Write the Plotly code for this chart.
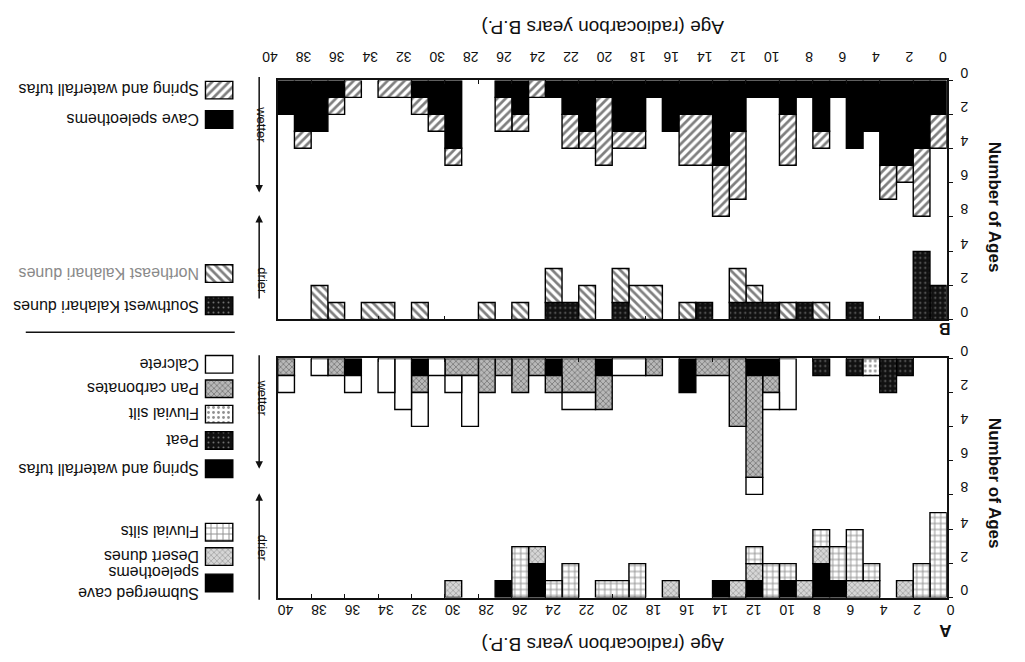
import plotly.graph_objects as go

# ---------------- data (counts per 1-kyr bin, bin start ages 0..39 ka) ----------------
AGE_BIN_START = list(range(40))
AGE_TICKS = list(range(0, 41, 2))
AGE_TICK_TEXT = [str(v) for v in AGE_TICKS]
WET_TICKS = [0, 2, 4, 6, 8]
DRY_TICKS = [0, 2, 4]

# Panel B - wetter
B_cave_speleothems = [2, 4, 5, 5, 3, 4, 1, 3, 1, 2, 1, 1, 3, 5, 2, 2, 3, 1, 3, 3,
                      1, 3, 2, 1, 0, 2, 1, 0, 0, 4, 2, 1, 0, 0, 0, 0, 1, 3, 3, 2]
B_spring_tufas = [2, 4, 1, 2, 0, 0, 0, 1, 0, 3, 0, 0, 4, 3, 3, 3, 0, 0, 1, 1,
                  4, 1, 2, 0, 1, 1, 2, 0, 0, 1, 1, 1, 1, 1, 0, 1, 1, 0, 1, 0]
# Panel B - drier
B_sw_kalahari_dunes = [2, 4, 0, 0, 0, 1, 0, 0, 1, 0, 1, 1, 1, 0, 1, 0, 0, 0, 0, 1,
                       0, 0, 1, 1, 0, 0, 0, 0, 0, 0, 0, 0, 0, 0, 0, 0, 0, 0, 0, 0]
B_ne_kalahari_dunes = [0, 0, 0, 0, 0, 0, 0, 1, 0, 1, 0, 1, 2, 0, 0, 1, 0, 2, 2, 2,
                       0, 2, 0, 2, 0, 1, 0, 1, 0, 0, 0, 1, 0, 1, 1, 0, 1, 2, 0, 0]
# Panel A - wetter
A_spring_tufas = [0, 0, 0, 0, 0, 0, 0, 0, 0, 0, 1, 1, 0, 0, 0, 2, 0, 0, 0, 0,
                  1, 0, 0, 1, 0, 0, 0, 0, 0, 0, 0, 1, 0, 0, 0, 1, 0, 0, 0, 0]
A_peat = [0, 0, 1, 2, 0, 1, 0, 1, 0, 0, 0, 0, 0, 0, 0, 0, 0, 0, 0, 0,
          0, 0, 0, 0, 0, 0, 0, 0, 0, 0, 0, 0, 0, 0, 0, 0, 0, 0, 0, 0]
A_fluvial_silt = [0, 0, 0, 0, 1, 0, 0, 0, 0, 0, 0, 0, 0, 0, 0, 0, 0, 0, 0, 0,
                  0, 0, 0, 0, 0, 0, 0, 0, 0, 0, 0, 0, 0, 0, 0, 0, 0, 0, 0, 0]
A_pan_carbonates = [0, 0, 0, 0, 0, 0, 0, 0, 0, 0, 1, 6, 4, 1, 1, 0, 0, 1, 0, 0,
                    2, 2, 2, 1, 1, 2, 1, 2, 1, 1, 0, 1, 0, 0, 0, 0, 1, 0, 0, 1]
A_calcrete = [0, 0, 0, 0, 0, 0, 0, 0, 0, 3, 1, 1, 0, 0, 0, 0, 0, 0, 1, 1,
              0, 1, 1, 0, 0, 0, 0, 0, 3, 1, 1, 2, 3, 2, 0, 1, 0, 1, 0, 1]
# Panel A - drier
A_submerged_speleothems = [0, 0, 0, 0, 0, 0, 1, 2, 0, 1, 0, 1, 0, 1, 0, 0, 0, 0, 0, 0,
                           0, 0, 0, 0, 2, 0, 1, 0, 0, 0, 0, 0, 0, 0, 0, 0, 0, 0, 0, 0]
A_desert_dunes = [0, 0, 1, 0, 1, 1, 0, 1, 1, 0, 0, 1, 1, 0, 0, 0, 1, 0, 0, 0,
                  0, 0, 0, 0, 1, 0, 0, 0, 0, 1, 0, 0, 0, 0, 0, 0, 0, 0, 0, 0]
A_fluvial_silts = [5, 2, 0, 0, 1, 3, 2, 1, 0, 1, 2, 1, 0, 0, 0, 0, 0, 0, 2, 1,
                   1, 0, 2, 1, 0, 3, 0, 0, 0, 0, 0, 0, 0, 0, 0, 0, 0, 0, 0, 0]

# ---------------- styles ----------------
FONT = "Liberation Sans, Arial, Helvetica, sans-serif"
INK = "#111111"
W, H = 1025, 662
PX_L, PX_R = 268, 953              # plot area left/right (pixels)
B_TOP, B_BOT = 67, 312              # panel B (pixels)
A_TOP, A_BOT = 352, 597             # panel A (pixels)
PX_PER_COUNT = 17.4
WET0 = (B_BOT - B_TOP) / PX_PER_COUNT   # position of the "wetter" zero line in count units

STYLE = {
    "black": dict(color="black"),
    "hatch_fwd": dict(color="white", pattern=dict(shape="/", fgcolor="black", bgcolor="white", size=6, solidity=0.45)),
    "hatch_bwd": dict(color="white", pattern=dict(shape="\\", fgcolor="black", bgcolor="white", size=6, solidity=0.45)),
    "dark_dots": dict(color="black", pattern=dict(shape=".", fgcolor="#d0d0d0", bgcolor="#111111", size=5, solidity=0.12)),
    "light_dots": dict(color="white", pattern=dict(shape=".", fgcolor="#222222", bgcolor="white", size=5, solidity=0.25)),
    "pan": dict(color="#a9a9a9", pattern=dict(shape="x", fgcolor="#444444", bgcolor="#b8b8b8", size=4, solidity=0.4)),
    "dunes": dict(color="#cccccc", pattern=dict(shape="x", fgcolor="#555555", bgcolor="#d6d6d6", size=4, solidity=0.3)),
    "grid": dict(color="white", pattern=dict(shape="+", fgcolor="#222222", bgcolor="white", size=6, solidity=0.3)),
    "white": dict(color="white"),
}


def stack_segments(series_list):
    """Merge adjacent bins with identical stacked extent, per series."""
    n = len(AGE_BIN_START)
    cum = [0] * n
    out = []
    for counts in series_list:
        segs = []
        t = 0
        while t < n:
            if counts[t] > 0:
                lo, hi = cum[t], cum[t] + counts[t]
                s = t
                while (t + 1 < n and counts[t + 1] > 0 and cum[t + 1] == lo
                       and cum[t + 1] + counts[t + 1] == hi):
                    t += 1
                segs.append((AGE_BIN_START[s], AGE_BIN_START[t] + 1, lo, hi))
            t += 1
        for i in range(n):
            cum[i] += counts[i]
        out.append(segs)
    return out


fig = go.Figure()


def add_stack(series_list, styles, names, xa, ya, wet):
    for segs, st, nm in zip(stack_segments(series_list), styles, names):
        if not segs:
            continue
        xs = [(a + b) / 2 for a, b, lo, hi in segs]
        ws = [b - a for a, b, lo, hi in segs]
        if wet:
            bases = [WET0 - lo for a, b, lo, hi in segs]
            ys = [-(hi - lo) for a, b, lo, hi in segs]
        else:
            bases = [lo for a, b, lo, hi in segs]
            ys = [hi - lo for a, b, lo, hi in segs]
        marker = dict(STYLE[st])
        marker["line"] = dict(color="black", width=1.4)
        fig.add_trace(go.Bar(x=xs, y=ys, base=bases, width=ws, name=nm, marker=marker,
                             xaxis=xa, yaxis=ya, showlegend=False))


add_stack([B_cave_speleothems, B_spring_tufas], ["black", "hatch_fwd"],
          ["Cave speleothems", "Spring and waterfall tufas"], "x", "y", True)
add_stack([B_sw_kalahari_dunes, B_ne_kalahari_dunes], ["dark_dots", "hatch_bwd"],
          ["Southwest Kalahari dunes", "Northeast Kalahari dunes"], "x", "y", False)
add_stack([A_spring_tufas, A_peat, A_fluvial_silt, A_pan_carbonates, A_calcrete],
          ["black", "dark_dots", "light_dots", "pan", "white"],
          ["Spring and waterfall tufas", "Peat", "Fluvial silt", "Pan carbonates", "Calcrete"],
          "x2", "y2", True)
add_stack([A_submerged_speleothems, A_desert_dunes, A_fluvial_silts], ["black", "dunes", "grid"],
          ["Submerged cave speleothems", "Desert dunes", "Fluvial silts"], "x2", "y2", False)

# ---------------- legend keys (upside-down, left column) ----------------
LEG_X0, LEG_X1, LEG_H = 194, 222, 18
LEGEND_ITEMS = [
    ("Spring and waterfall tufas", "hatch_fwd", 77),
    ("Cave speleothems", "black", 107),
    ("Northeast Kalahari dunes", "hatch_bwd", 265),
    ("Southwest Kalahari dunes", "dark_dots", 298),
    ("Calcrete", "white", 358),
    ("Pan carbonates", "pan", 383),
    ("Fluvial silt", "light_dots", 409),
    ("Peat", "dark_dots", 436),
    ("Spring and waterfall tufas", "black", 465),
    ("Fluvial silts", "grid", 530),
    ("Desert dunes", "dunes", 555),
    ("Submerged cave<br>speleothems", "black", 582),
]
for label_text, st, yc in LEGEND_ITEMS:
    marker = dict(STYLE[st])
    marker["line"] = dict(color="black", width=1.4)
    fig.add_trace(go.Bar(x=[(LEG_X0 + LEG_X1) / 2], y=[LEG_H], base=[yc - LEG_H / 2],
                         width=[LEG_X1 - LEG_X0], marker=marker, xaxis="x3", yaxis="y3",
                         showlegend=False, hoverinfo="skip"))

annotations = []
for label_text, st, yc in LEGEND_ITEMS:
    color = "#8a8a8a" if label_text.startswith("Northeast") else INK
    annotations.append(dict(text=label_text, x=(LEG_X0 - 4) / W, y=1 - yc / H, xref="paper", yref="paper",
                            xanchor="right", yanchor="middle", textangle=180, showarrow=False,
                            align="left", font=dict(family=FONT, size=16, color=color)))


def label(text, px, py, angle, size):
    return dict(text=text, x=px / W, y=1 - py / H, xref="paper", yref="paper",
                xanchor="center", yanchor="middle", showarrow=False, textangle=angle,
                font=dict(family=FONT, size=size, color=INK))


# axis titles and panel letters (upside-down)
for yy in (13, 645):
    annotations.append(label("Age (radiocarbon years B.P.)", 600, yy, 180, 19))
for yy in (197, 480):
    annotations.append(label("<b>Number of Ages</b>", 1002, yy, 90, 17))
annotations.append(label("<b>B</b>", 951, 322, 180, 16))
annotations.append(label("<b>A</b>", 952, 630, 180, 17))

# wetter / drier arrows
ARROWS = [("wetter", 182, 65, 112), ("drier", 205, 290, 272),
          ("wetter", 465, 350, 392), ("drier", 490, 598, 546)]
for word, head, tail, ty in ARROWS:
    annotations.append(dict(text="", x=249 / W, y=1 - head / H, xref="paper", yref="paper",
                            showarrow=True, ax=0, ay=tail - head, arrowhead=2, arrowsize=1,
                            arrowwidth=1.5, arrowcolor=INK))
    annotations.append(label(word, 252, ty, 90, 13))

shapes = [dict(type="line", xref="paper", yref="paper", x0=10 / W, x1=224 / W,
               y0=1 - 325 / H, y1=1 - 325 / H, line=dict(color=INK, width=1.5))]

dom_x = [PX_L / W, PX_R / W]
xcommon = dict(domain=dom_x, range=[40, 0], tickvals=AGE_TICKS, ticktext=AGE_TICK_TEXT, tickangle=180,
               ticks="inside", ticklen=4, tickwidth=1, tickcolor=INK, showline=True, linecolor=INK,
               linewidth=1.5, mirror="ticks", showgrid=False, zeroline=False,
               tickfont=dict(family=FONT, size=14, color=INK))
ytickvals = DRY_TICKS + [WET0 - v for v in WET_TICKS]
yticktext = [str(v) for v in DRY_TICKS] + [str(v) for v in WET_TICKS]
ycommon = dict(range=[0, WET0], side="right", tickvals=ytickvals, ticktext=yticktext, tickangle=180,
               ticks="outside", ticklen=5, tickwidth=1, tickcolor=INK, showline=True, linecolor=INK,
               linewidth=1.5, mirror=True, showgrid=False, zeroline=False,
               ticklabelstandoff=12, ticklabelshift=-3,
               tickfont=dict(family=FONT, size=14, color=INK))

fig.update_layout(
    width=W, height=H, margin=dict(l=0, r=0, t=0, b=0),
    paper_bgcolor="white", plot_bgcolor="rgba(0,0,0,0)",
    barmode="overlay", showlegend=False,
    xaxis=dict(xcommon, anchor="y", side="top", ticklabelstandoff=7),
    yaxis=dict(ycommon, anchor="x", domain=[1 - B_BOT / H, 1 - B_TOP / H]),
    xaxis2=dict(xcommon, anchor="y2", side="bottom", ticklabelstandoff=3),
    yaxis2=dict(ycommon, anchor="x2", domain=[1 - A_BOT / H, 1 - A_TOP / H]),
    xaxis3=dict(domain=[0, 1], range=[0, W], visible=False, anchor="y3", fixedrange=True),
    yaxis3=dict(domain=[0, 1], range=[H, 0], visible=False, anchor="x3", fixedrange=True),
    annotations=annotations, shapes=shapes,
    font=dict(family=FONT, color=INK),
)

fig.write_html("out.html", config={"displayModeBar": False},
               post_script="document.body.style.margin='0';document.body.style.overflow='hidden';")
